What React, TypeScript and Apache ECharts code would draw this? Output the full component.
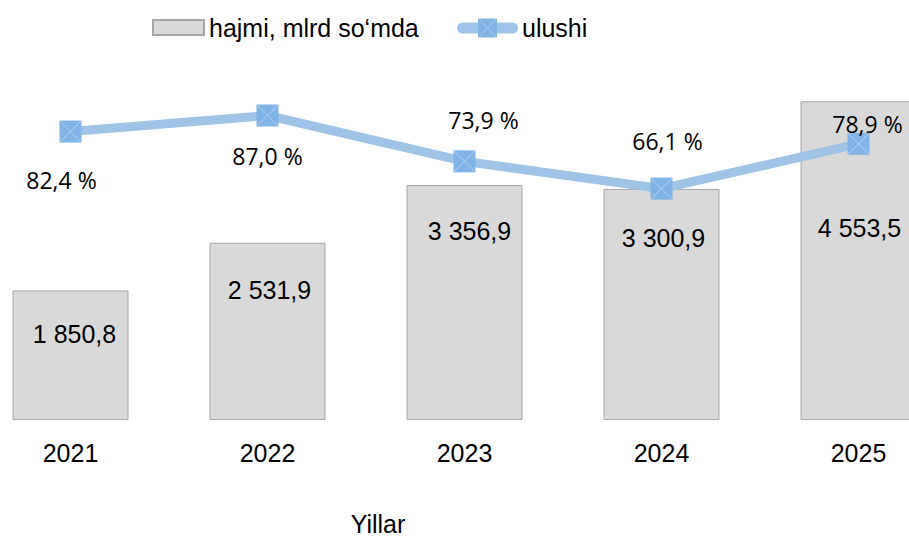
import React, { useEffect, useRef } from "react";
import * as echarts from "echarts";

const years = ["2021", "2022", "2023", "2024", "2025"];
const volume = [1850.8, 2531.9, 3356.9, 3300.9, 4553.5];
const share = [82.4, 87.0, 73.9, 66.1, 78.9];
const volumeName = "hajmi, mlrd so‘mda";
const shareName = "ulushi";
const axisTitle = "Yillar";

// label layout (pixels) — layout only, not data
const barLabelPos = [[4, 44], [2, 47], [5, 46], [2, 49], [1, 127]];
const lineLabelOffset = [[-9, 48], [0, 40], [19, -41], [6, -48], [9, -20]];

const SHIFT = 28;
const FONT = "Liberation Sans, Arial";

const fmtNum = (v: number) => {
  const [i, d] = v.toFixed(1).split(".");
  const ip = i.replace(/\B(?=(\d{3})+(?!\d))/g, " ");
  return ip + "," + d;
};

export default function App() {
  const ref = useRef<HTMLDivElement>(null);
  useEffect(() => {
    if (!ref.current) return;
    const chart = echarts.init(ref.current, null, { renderer: "svg" });
    const lx = 457 + SHIFT; // manual line-legend icon left
    const ly = 28;
    chart.setOption({
      animation: false,
      backgroundColor: "#ffffff",
      legend: {
        data: [{ name: volumeName, icon: "rect" }],
        left: 152 + SHIFT,
        top: 15,
        padding: 0,
        itemWidth: 51,
        itemHeight: 15,
        textStyle: { fontFamily: FONT, fontSize: 25, color: "#000" },
      },
      grid: { left: 0, right: 0, top: 70, bottom: 119 },
      xAxis: {
        type: "category",
        data: years,
        axisLine: { show: false },
        axisTick: { show: false },
        axisLabel: { margin: 20, fontFamily: FONT, fontSize: 25, color: "#000" },
      },
      yAxis: [
        { type: "value", min: 0, max: 5000, show: false, splitLine: { show: false } },
        { type: "value", min: 0, max: 100, show: false, splitLine: { show: false } },
      ],
      graphic: [
        {
          type: "text",
          x: 378 + SHIFT,
          y: 524,
          style: {
            text: axisTitle,
            fontFamily: FONT,
            fontSize: 25,
            fill: "#000",
            align: "center",
            verticalAlign: "middle",
          },
        },
        {
          type: "line",
          shape: { x1: lx + 5.5, y1: ly, x2: lx + 55.5, y2: ly },
          style: { stroke: "#9DC3E6", lineWidth: 11, lineCap: "round" },
        },
        {
          type: "rect",
          shape: { x: lx + 21, y: ly - 9.5, width: 19, height: 19 },
          style: { fill: "#80B3E6" },
        },
        {
          type: "line",
          shape: { x1: lx + 21, y1: ly - 9.5, x2: lx + 40, y2: ly + 9.5 },
          style: { stroke: "#B0D0F0", lineWidth: 1 },
        },
        {
          type: "line",
          shape: { x1: lx + 40, y1: ly - 9.5, x2: lx + 21, y2: ly + 9.5 },
          style: { stroke: "#B0D0F0", lineWidth: 1 },
        },
        {
          type: "text",
          x: 522 + SHIFT,
          y: ly,
          style: {
            text: shareName,
            fontFamily: FONT,
            fontSize: 25,
            fill: "#000",
            align: "left",
            verticalAlign: "middle",
          },
        },
      ],
      series: [
        {
          name: volumeName,
          type: "bar",
          barWidth: 116,
          itemStyle: { color: "#D9D9D9", borderColor: "#A6A6A6", borderWidth: 1 },
          data: volume.map((v, i) => ({
            value: v,
            label: {
              show: true,
              position: [58 + barLabelPos[i][0], barLabelPos[i][1]],
              align: "center",
              verticalAlign: "middle",
              formatter: () => fmtNum(v),
              fontFamily: FONT,
              fontSize: 25,
              color: "#000",
            },
          })),
        },
        {
          name: shareName,
          type: "line",
          yAxisIndex: 1,
          symbol: "rect",
          symbolSize: 22,
          lineStyle: { color: "#9DC3E6", width: 9, cap: "round" },
          itemStyle: { color: "#80B3E6" },
          z: 5,
          data: share.map((v, i) => ({
            value: v,
            label: {
              show: true,
              position: "inside",
              offset: lineLabelOffset[i],
              align: "center",
              verticalAlign: "middle",
              formatter: () => v.toFixed(1).replace(".", ",") + " %",
              fontFamily: "Open Sans",
              fontSize: 23,
              color: "#000",
            },
          })),
        },
        {
          name: "x",
          type: "scatter",
          yAxisIndex: 1,
          symbol:
            "path://M0,0 L0.7,0 L20,19.3 L20,20 L19.3,20 L0,0.7 Z M19.3,0 L20,0 L20,0.7 L0.7,20 L0,20 L0,19.3 Z",
          symbolSize: 22,
          itemStyle: { color: "#B0D0F0" },
          z: 6,
          silent: true,
          data: share,
        },
      ],
    });
    return () => chart.dispose();
  }, []);
  return (
    <div
      style={{
        position: "fixed",
        left: 0,
        top: 0,
        width: 909,
        height: 539,
        overflow: "hidden",
        background: "#fff",
      }}
    >
      <div
        ref={ref}
        style={{ position: "absolute", left: -SHIFT, top: 0, width: 985, height: 539 }}
      />
    </div>
  );
}
